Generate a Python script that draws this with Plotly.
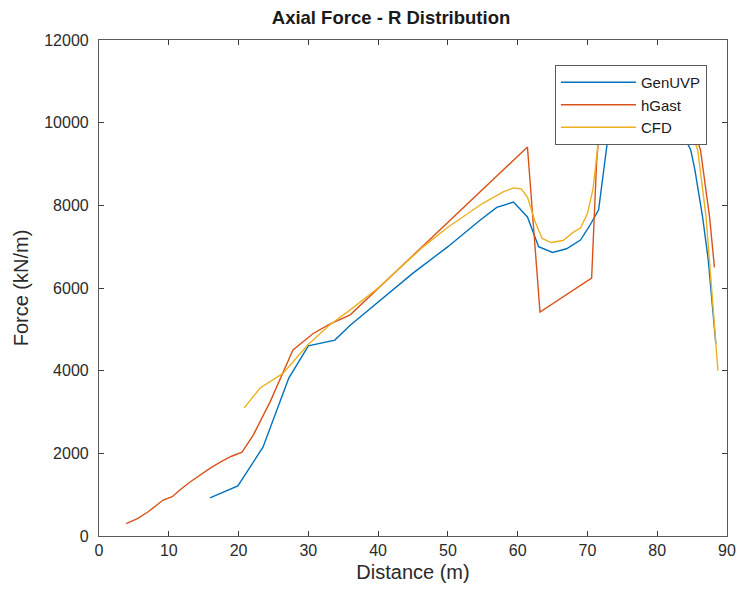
import plotly.graph_objects as go

# Axial force distribution along the blade (kN/m vs m)
genuvp_x = [15.9, 19.9, 23.5, 27.2, 30.0, 33.8, 36.0, 40.0, 45.0, 50.0, 54.6, 57.0, 59.4,
            61.4, 63.0, 65.0, 67.0, 69.0, 70.3, 71.6, 72.8, 74.3, 76.0, 78.0, 80.0, 82.0,
            83.4, 84.8, 85.4, 86.5, 87.3, 88.4]
genuvp_y = [920, 1210, 2150, 3820, 4600, 4740, 5100, 5650, 6360, 7000, 7640, 7950, 8080,
            7720, 7000, 6860, 6950, 7160, 7500, 7890, 9460, 9950, 10500, 10800, 10800, 10500,
            9820, 9340, 8860, 7720, 6700, 4650]

hgast_x = [3.9, 5.5, 7.0, 8.3, 9.2, 10.5, 11.5, 13.0, 14.5, 16.0, 17.5, 19.0, 20.5, 22.1,
           24.5, 27.8, 30.7, 33.0, 36.0, 40.0, 45.0, 50.0, 55.0, 61.4, 63.2, 70.6, 71.3,
           72.0, 74.0, 76.0, 80.0, 83.0, 85.3, 86.2, 87.5, 88.2]
hgast_y = [300, 420, 580, 750, 870, 950, 1100, 1300, 1480, 1650, 1800, 1930, 2030, 2440,
           3240, 4500, 4900, 5120, 5350, 5990, 6790, 7590, 8390, 9410, 5420, 6240, 9000,
           10500, 11000, 11100, 11100, 10800, 9820, 9340, 7720, 6500]

cfd_x = [20.8, 23.1, 26.4, 29.9, 33.0, 36.0, 40.0, 46.4, 50.0, 55.0, 58.0, 59.4, 60.5, 61.4,
         62.5, 63.5, 64.8, 66.5, 68.0, 69.0, 70.0, 70.8, 71.4, 71.9, 73.0, 75.0, 78.0, 81.0,
         83.0, 84.5, 85.8, 87.0, 87.8, 88.7]
cfd_y = [3100, 3580, 3940, 4620, 5100, 5470, 6000, 6990, 7470, 8050, 8330, 8420, 8400, 8200,
         7600, 7200, 7100, 7150, 7350, 7450, 7800, 8400, 9300, 10200, 10800, 11200, 11300,
         11200, 10700, 10000, 9340, 7720, 5950, 4000]

x_ticks = [0, 10, 20, 30, 40, 50, 60, 70, 80, 90]
y_ticks = [0, 2000, 4000, 6000, 8000, 10000, 12000]

series = [
    ("GenUVP", genuvp_x, genuvp_y, "#0072BD"),
    ("hGast", hgast_x, hgast_y, "#D95319"),
    ("CFD", cfd_x, cfd_y, "#EDB120"),
]

fig = go.Figure()
for name, xs, ys, color in series:
    fig.add_trace(go.Scatter(x=xs, y=ys, mode="lines", name=name,
                             line=dict(color=color, width=1.4)))

axis_style = dict(
    showgrid=False, zeroline=False, showline=True, linecolor="#5a5a5a", linewidth=1.2,
    mirror="ticks", ticks="inside", ticklen=5, tickcolor="#3a3a3a", tickwidth=1,
    tickfont=dict(size=16, color="#2a2a2a"), automargin=False,
)

fig.update_layout(
    width=737, height=594,
    margin=dict(l=99, r=10, t=40, b=58),
    paper_bgcolor="white", plot_bgcolor="white",
    font=dict(family="Liberation Sans, Arial, sans-serif", color="#262626"),
    title=dict(text="<b>Axial Force - R Distribution</b>", x=391 / 737,
               xanchor="center", y=1 - 18 / 594, yanchor="middle",
               font=dict(size=18.5, color="#1a1a1a")),
    xaxis=dict(range=[0, 90], tickvals=x_ticks, ticktext=[str(v) for v in x_ticks],
               title=dict(text="Distance (m)", font=dict(size=20, color="#2a2a2a"), standoff=6),
               **axis_style),
    yaxis=dict(range=[0, 12000], tickvals=y_ticks, ticktext=[str(v) for v in y_ticks],
               ticklabelstandoff=6,
               title=dict(text="Force (kN/m)", font=dict(size=20, color="#2a2a2a"), standoff=10),
               **axis_style),
    legend=dict(x=0.968, y=0.9496, xanchor="right", yanchor="top",
                bgcolor="white", bordercolor="#5a5a5a", borderwidth=1,
                font=dict(size=15, color="#1a1a1a"), itemwidth=75,
                tracegroupgap=0),
    showlegend=True,
)

fig.write_html("out.html")
